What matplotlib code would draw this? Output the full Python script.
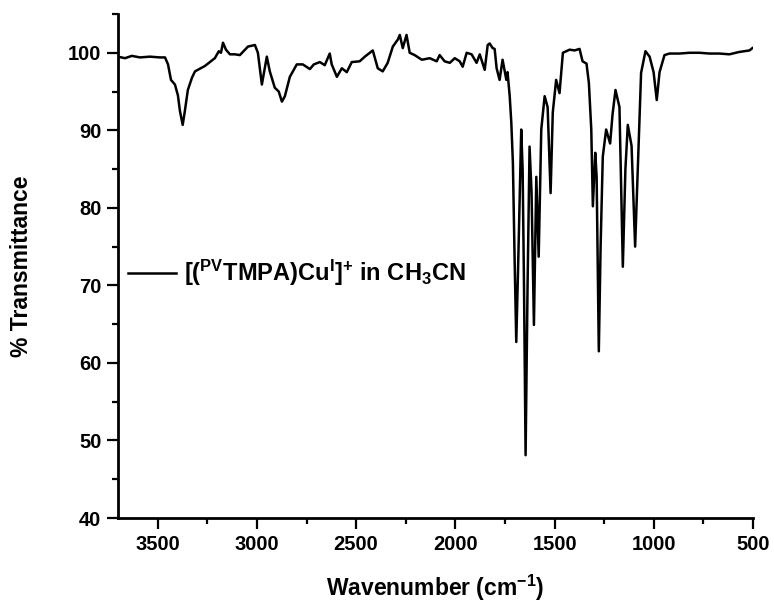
import matplotlib
matplotlib.use("Agg")
import matplotlib.pyplot as plt
from matplotlib.ticker import MultipleLocator

plt.rcParams['font.family'] = ['Liberation Sans', 'DejaVu Sans']
plt.rcParams['font.weight'] = 'bold'
plt.rcParams['mathtext.fontset'] = 'custom'
plt.rcParams['mathtext.rm'] = 'Liberation Sans:bold'
plt.rcParams['mathtext.it'] = 'Liberation Sans:bold'
plt.rcParams['mathtext.bf'] = 'Liberation Sans:bold'
plt.rcParams['mathtext.default'] = 'regular'

# Wavenumber (cm^-1) and % transmittance
wavenumber = [3700, 3665, 3630, 3589, 3539, 3489, 3463, 3448, 3433, 3413, 3398, 3388,
              3374, 3363, 3348, 3327, 3312, 3262, 3212, 3192, 3181, 3171, 3156, 3136,
              3111, 3086, 3045, 3010, 2995, 2975, 2950, 2935, 2910, 2890, 2874, 2859,
              2834, 2799, 2769, 2733, 2713, 2683, 2658, 2633, 2623, 2597, 2572, 2547,
              2522, 2482, 2456, 2416, 2391, 2366, 2341, 2315, 2290, 2280, 2265, 2246,
              2230, 2205, 2169, 2129, 2094, 2079, 2054, 2028, 2003, 1978, 1963, 1943,
              1918, 1893, 1877, 1852, 1837, 1827, 1812, 1802, 1792, 1777, 1762, 1743,
              1737, 1726, 1718, 1710, 1701, 1693, 1684, 1668, 1661, 1654, 1646, 1636,
              1626, 1616, 1604, 1592, 1580, 1567, 1550, 1535, 1520, 1509, 1492, 1475,
              1458, 1424, 1399, 1374, 1359, 1339, 1327, 1315, 1307, 1295, 1288, 1277,
              1268, 1257, 1240, 1220, 1208, 1193, 1173, 1156, 1143, 1131, 1112, 1094,
              1082, 1064, 1042, 1021, 1001, 985, 971, 946, 921, 870, 820, 770, 720,
              669, 619, 570, 518, 503]
transmittance = [99.5, 99.3, 99.6, 99.4, 99.5, 99.4, 99.4, 98.5, 96.5, 95.9, 94.5, 92.5,
                 90.7, 92.5, 95.2, 96.8, 97.6, 98.3, 99.3, 100.2, 100.0, 101.3, 100.4, 99.8,
                 99.8, 99.7, 100.8, 101.0, 100.0, 95.9, 99.5, 97.6, 95.5, 95.0, 93.7, 94.4,
                 96.9, 98.5, 98.5, 97.9, 98.5, 98.8, 98.4, 99.9, 98.5, 96.9, 98.0, 97.5,
                 98.8, 98.9, 99.5, 100.3, 98.0, 97.6, 98.7, 100.8, 101.7, 102.3, 100.6, 102.3,
                 100.0, 99.7, 99.1, 99.3, 98.9, 99.7, 98.9, 98.7, 99.3, 98.9, 98.2, 100.0,
                 99.8, 98.7, 99.8, 97.8, 101.0, 101.2, 100.6, 100.5, 98.0, 96.5, 99.1, 96.5,
                 97.5, 94.4, 91.0, 85.8, 72.9, 62.7, 72.0, 90.1, 85.0, 70.0, 48.1, 70.0,
                 87.9, 82.0, 64.9, 84.0, 73.7, 90.1, 94.4, 93.0, 81.9, 92.3, 96.5, 94.8,
                 100.0, 100.4, 100.3, 100.5, 98.9, 98.6, 96.1, 90.1, 80.2, 87.1, 84.0, 61.5,
                 75.0, 86.6, 90.1, 88.3, 92.0, 95.2, 93.0, 72.4, 85.0, 90.7, 88.0, 75.0,
                 84.0, 97.4, 100.2, 99.5, 97.5, 93.9, 97.5, 99.7, 99.9, 99.9, 100.0, 100.0, 99.9,
                 99.9, 99.8, 100.1, 100.3, 100.6]

series_label = r"[($^{PV}$TMPA)Cu$^{I}$]$^{+}$ in CH$_{3}$CN"
xlabel = r"Wavenumber (cm$^{-1}$)"
ylabel = "% Transmittance"

fig = plt.figure(figsize=(7.74, 6.04), dpi=100)
ax = fig.add_axes([118/774, 1 - 518/604, (753 - 118)/774, (518 - 14)/604])

ax.plot(wavenumber, transmittance, color='black', lw=1.8, label=series_label)

ax.set_xlim(3700, 500)
ax.set_ylim(40, 105)
ax.xaxis.set_major_locator(MultipleLocator(500))
ax.xaxis.set_minor_locator(MultipleLocator(250))
ax.yaxis.set_major_locator(MultipleLocator(10))
ax.yaxis.set_minor_locator(MultipleLocator(5))

for s in ['top', 'right']:
    ax.spines[s].set_visible(False)
for s in ['left', 'bottom']:
    ax.spines[s].set_linewidth(2)

ax.tick_params(which='major', direction='out', length=8, width=1.6, labelsize=14.5, pad=4)
ax.tick_params(which='minor', direction='out', length=4.5, width=1.6)
for lab in ax.get_xticklabels() + ax.get_yticklabels():
    lab.set_fontweight('bold')

ax.set_xlabel(xlabel, fontsize=16.5, fontweight='bold', labelpad=14)
ax.set_ylabel(ylabel, fontsize=16.5, fontweight='bold', labelpad=25)

leg = fig.legend(loc='center left', bbox_to_anchor=(128/774, 1 - 273/604),
                 frameon=False, fontsize=17, handlelength=2.05, handletextpad=0.33,
                 borderpad=0, borderaxespad=0)
for t in leg.get_texts():
    t.set_fontweight('bold')

fig.savefig('out.png', dpi=100)
